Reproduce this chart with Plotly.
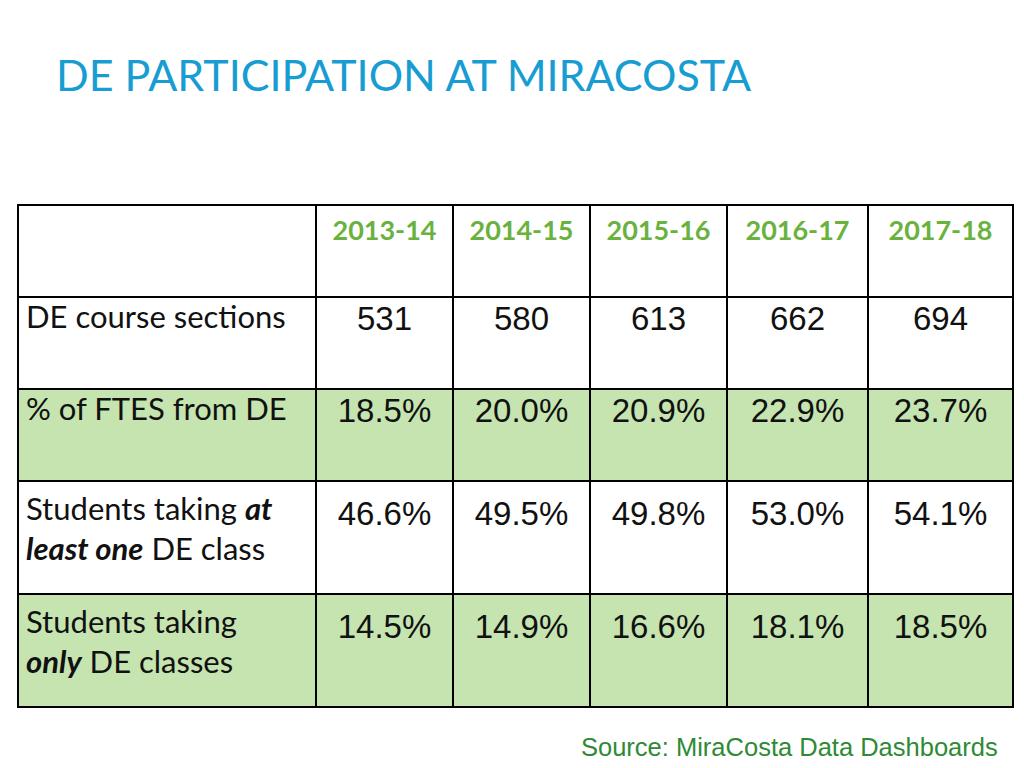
import plotly.graph_objects as go

title = "DE PARTICIPATION AT MIRACOSTA"
source = "Source: MiraCosta Data Dashboards"
years = ["2013-14", "2014-15", "2015-16", "2016-17", "2017-18"]
row_labels = [
    "DE course sections",
    "% of FTES from DE",
    "Students taking <b><i>at</i></b><br><b><i>least one</i></b> DE class",
    "Students taking<br><b><i>only</i></b> DE classes",
]
sections = [531, 580, 613, 662, 694]
ftes_pct = [18.5, 20.0, 20.9, 22.9, 23.7]
at_least_one_pct = [46.6, 49.5, 49.8, 53.0, 54.1]
only_de_pct = [14.5, 14.9, 16.6, 18.1, 18.5]

# trailing spacer line used only to make the two-line rows taller
SPACER = "<br><span style='font-size:87px'>&nbsp;</span>"

rows = [
    [str(v) for v in sections],
    [f"{v:.1f}%" for v in ftes_pct],
    [f"{v:.1f}%" + SPACER for v in at_least_one_pct],
    [f"{v:.1f}%" + SPACER for v in only_de_pct],
]

WHITE = "#ffffff"
GREEN_FILL = "#c5e4b0"
row_fill = [WHITE, GREEN_FILL, WHITE, GREEN_FILL]

columns = [row_labels] + [[r[i] for r in rows] for i in range(len(years))]
fills = [row_fill] * (len(years) + 1)

W, H = 1024, 768
OFF = 8  # page body margin
fig = go.Figure(go.Table(
    domain=dict(x=[(18 - OFF) / W, (1013 - OFF) / W], y=[0.0, 1 - (205 - OFF) / H]),
    columnwidth=[298, 137, 137, 137, 141, 145],
    header=dict(
        values=[""] + [f"<b>{y}</b>" for y in years],
        fill_color=WHITE,
        line=dict(color="#000000", width=1.5),
        align=["left"] + ["center"] * 5,
        font=dict(family="Lato", size=27, color="#6ab23e"),
        height=92,
    ),
    cells=dict(
        values=columns,
        fill_color=fills,
        line=dict(color="#000000", width=1.5),
        align=["left"] + ["center"] * 5,
        font=dict(family=["Lato"] + ["Liberation Sans"] * 5, size=[31] + [33] * 5,
                  color="#111111"),
        height=92,
    ),
))

fig.add_annotation(
    text=title, x=46 / W, y=1 - 66 / H, xref="paper", yref="paper",
    xanchor="left", yanchor="middle", showarrow=False,
    font=dict(family="Lato", size=43, color="#189dd2"),
)
fig.add_annotation(
    text=source, x=992 / W, y=1 - 739 / H, xref="paper", yref="paper",
    xanchor="right", yanchor="middle", showarrow=False,
    font=dict(family="Liberation Sans", size=25.5, color="#2e8a35"),
)

fig.update_layout(
    width=W, height=H, margin=dict(l=0, r=0, t=0, b=0),
    paper_bgcolor="#ffffff", plot_bgcolor="#ffffff",
)

fig.write_html("out.html")
